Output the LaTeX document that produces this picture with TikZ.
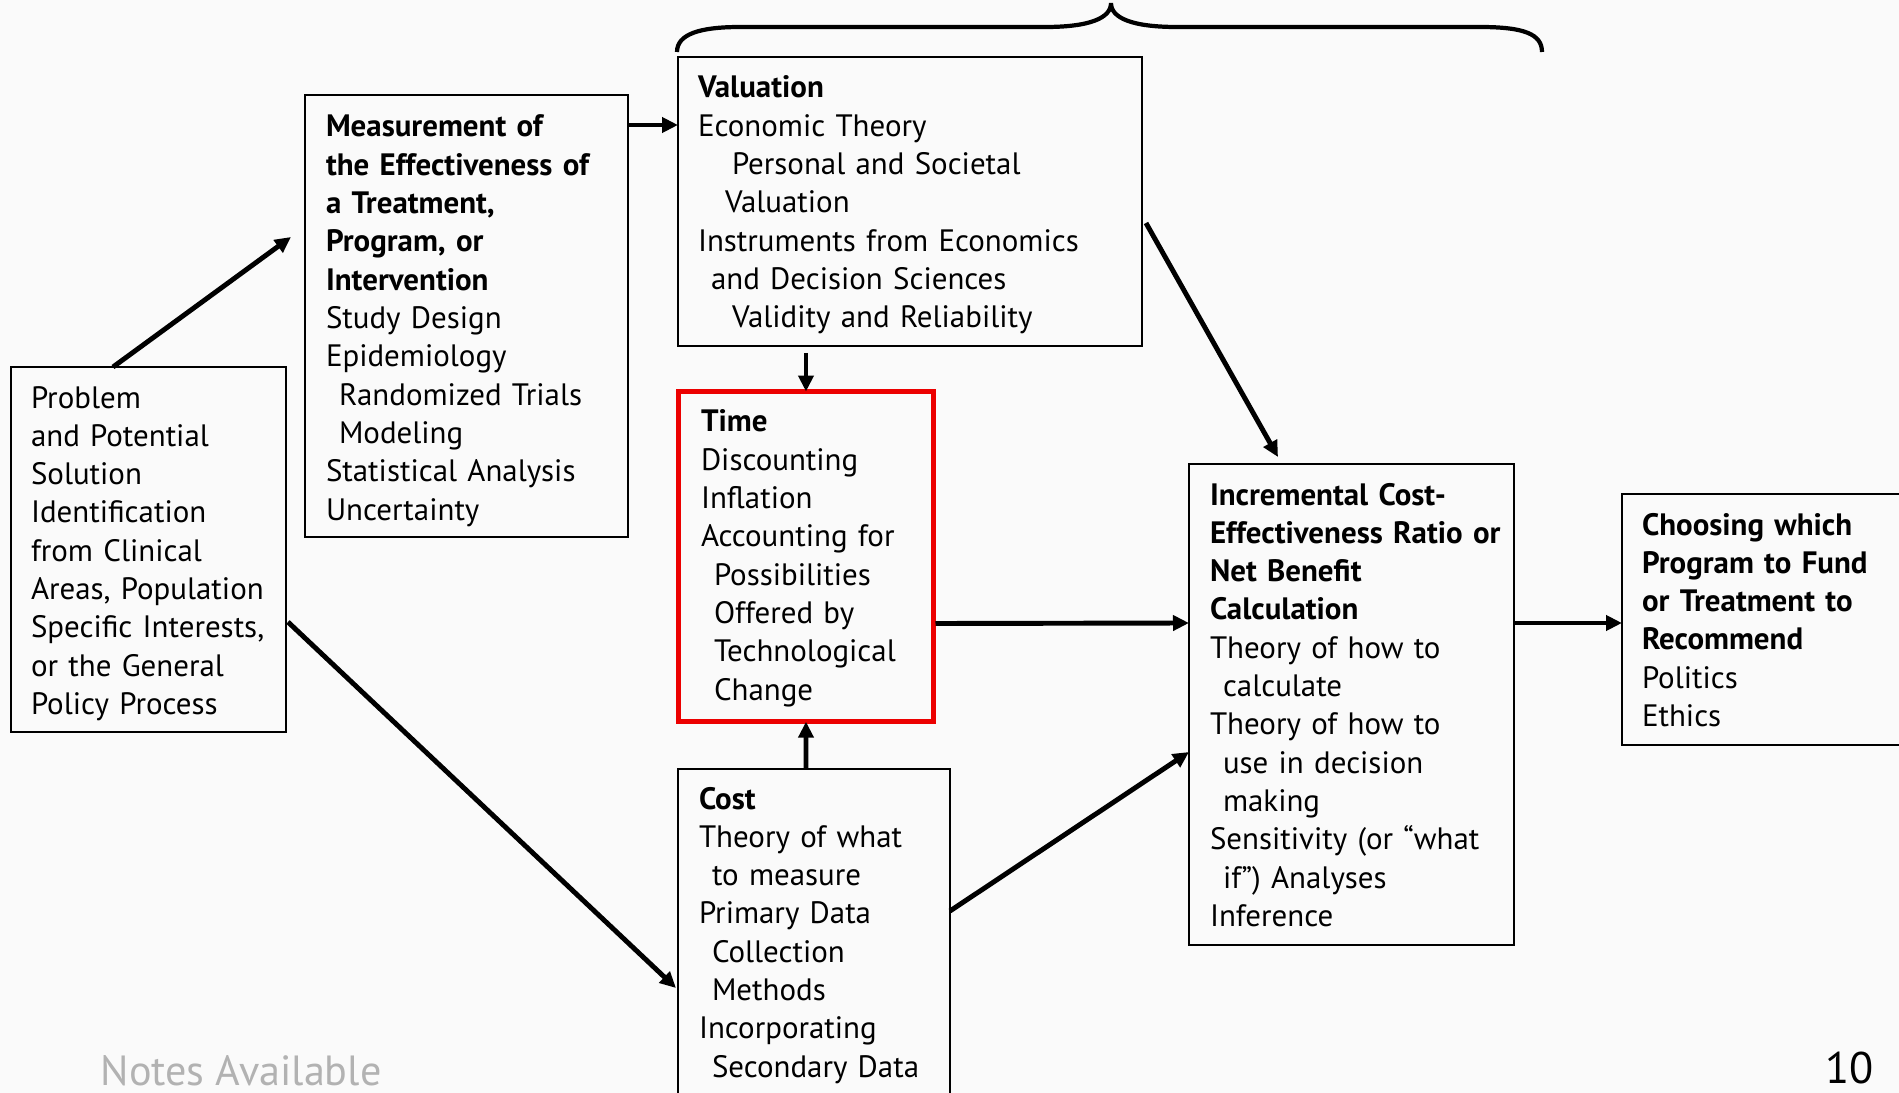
\documentclass[tikz,border=0pt]{standalone}
\usepackage{fontspec}
\setmainfont{PT Sans}
\usetikzlibrary{arrows.meta, calc}
\definecolor{slidebg}{RGB}{250,250,250}
\definecolor{notegray}{RGB}{178,178,178}
\definecolor{timered}{RGB}{236,0,0}

\begin{document}
\begin{tikzpicture}[x=0.1mm, y=-0.1mm,
  box/.style={draw, line width=0.8pt, anchor=north west, align=left,
    inner xsep=2mm, inner ysep=0pt, outer sep=0pt,
    font=\fontsize{8.8}{10.9}\selectfont},
  link/.style={line width=1.4pt, -{Triangle[length=1.6mm, width=1.5mm]}}]
% slide
\useasboundingbox (0,0) rectangle (1899,1093);
\clip (0,0) rectangle (1899,1093);
\fill[slidebg] (0,0) rectangle (1899,1093);

% boxes
\node[box, text width=23.5mm, text height=4.1mm, text depth=32.4mm] (prob) at (11,367)
  {Problem\\and Potential\\Solution\\Identification\\from Clinical\\\mbox{Areas, Population}\\
   \mbox{Specific Interests,}\\or the General\\Policy Process};
\node[box, inner xsep=2.1mm, text width=28.1mm, text height=4.2mm, text depth=40mm] (meas) at (305,95)
  {\textbf{Measurement of}\\\textbf{the Effectiveness of}\\\textbf{a Treatment,}\\
   \textbf{Program, or}\\\textbf{Intervention}\\Study Design\\Epidemiology\\
   \hspace*{1.3mm}Randomized Trials\\\hspace*{1.3mm}Modeling\\Statistical Analysis\\Uncertainty};
\node[box, text width=42.4mm, text height=4.1mm, text depth=24.8mm] (val) at (678,57)
  {\textbf{Valuation}\\Economic Theory\\\hspace*{3.4mm}Personal and Societal\\
   \hspace*{2.7mm}Valuation\\Instruments from Economics\\\hspace*{1.3mm}and Decision Sciences\\
   \hspace*{3.4mm}Validity and Reliability};
\node[box, draw=timered, line width=1.4pt, inner xsep=2.25mm, text width=21mm,
  text height=4.05mm, text depth=28.97mm] (tim) at (678.5,391.5)
  {\textbf{Time}\\Discounting\\Inflation\\Accounting for\\\hspace*{1.3mm}Possibilities\\
   \hspace*{1.3mm}Offered by\\\hspace*{1.3mm}Technological\\\hspace*{1.3mm}Change};
\node[box, inner xsep=2.1mm, text width=23mm, text height=4mm, text depth=35mm] (cost) at (678,769)
  {\textbf{Cost}\\Theory of what\\\hspace*{1.3mm}to measure\\Primary Data\\
   \hspace*{1.3mm}Collection\\\hspace*{1.3mm}Methods\\Incorporating\\\hspace*{1.3mm}Secondary Data};
\node[box, inner xsep=2.1mm, text width=28.3mm, text height=4.1mm, text depth=44mm] (icer) at (1189,464)
  {\textbf{Incremental Cost-}\\\mbox{\textbf{Effectiveness Ratio or}}\\\textbf{Net Benefit}\\
   \textbf{Calculation}\\Theory of how to\\\hspace*{1.3mm}calculate\\Theory of how to\\
   \hspace*{1.3mm}use in decision\\\hspace*{1.3mm}making\\Sensitivity (or “what\\
   \hspace*{1.3mm}if”) Analyses\\Inference};
\node[box, text width=26mm, text height=4.1mm, text depth=21mm] (choose) at (1622,494)
  {\textbf{Choosing which}\\\textbf{Program to Fund}\\\textbf{or Treatment to}\\
   \textbf{Recommend}\\Politics\\Ethics};

% brace over valuation
\draw[line width=1.2pt] ($(val.north west)+(-1,-5)$) .. controls +(0,-18) and +(-40,0) .. (740,27)
  -- (1045,27) .. controls (1090,27) and (1111,18) .. (1111,3)
  .. controls (1111,18) and (1132,27) .. (1177,27) -- (1480,27)
  .. controls (1524,27) and (1542,34) .. (1542,52);

% arrows
\draw[link] ($(prob.north west)+(102,0)$) -- ($(meas.north west)+(-14,142)$);
\draw[link] ($(prob.north east)+(2,255)$) -- ($(cost.north west)+(-2,219)$);
\draw[link] ($(meas.north east)+(0,30)$) -- ($(val.north west)+(0,68)$);
\draw[link] ($(val.south -| tim.north)+(0,7)$) -- (tim.north);
\draw[link] ($(cost.north west)+(128,0)$) -- (tim.south);
\draw[link] ($(val.north east)+(4,166)$) -- ($(icer.north west)+(89,-7)$);
\draw[link] ($(tim.north east)+(2,232)$) -- ($(icer.north west)+(0,159)$);
\draw[link] ($(cost.north east)+(0,142)$) -- ($(icer.north west)+(0,288)$);
\draw[link] ($(icer.north east)+(0,159)$) -- ($(choose.north west)+(0,129)$);

% footer
\node[anchor=base west, inner sep=0pt, text=notegray, font=\fontsize{12}{15}\selectfont] (notes) at (100,1085) {Notes Available};
\node[anchor=base west, inner sep=0pt, font=\fontsize{12.6}{15}\selectfont] (pagenum) at (1825,1083) {10};
\end{tikzpicture}
\end{document}
